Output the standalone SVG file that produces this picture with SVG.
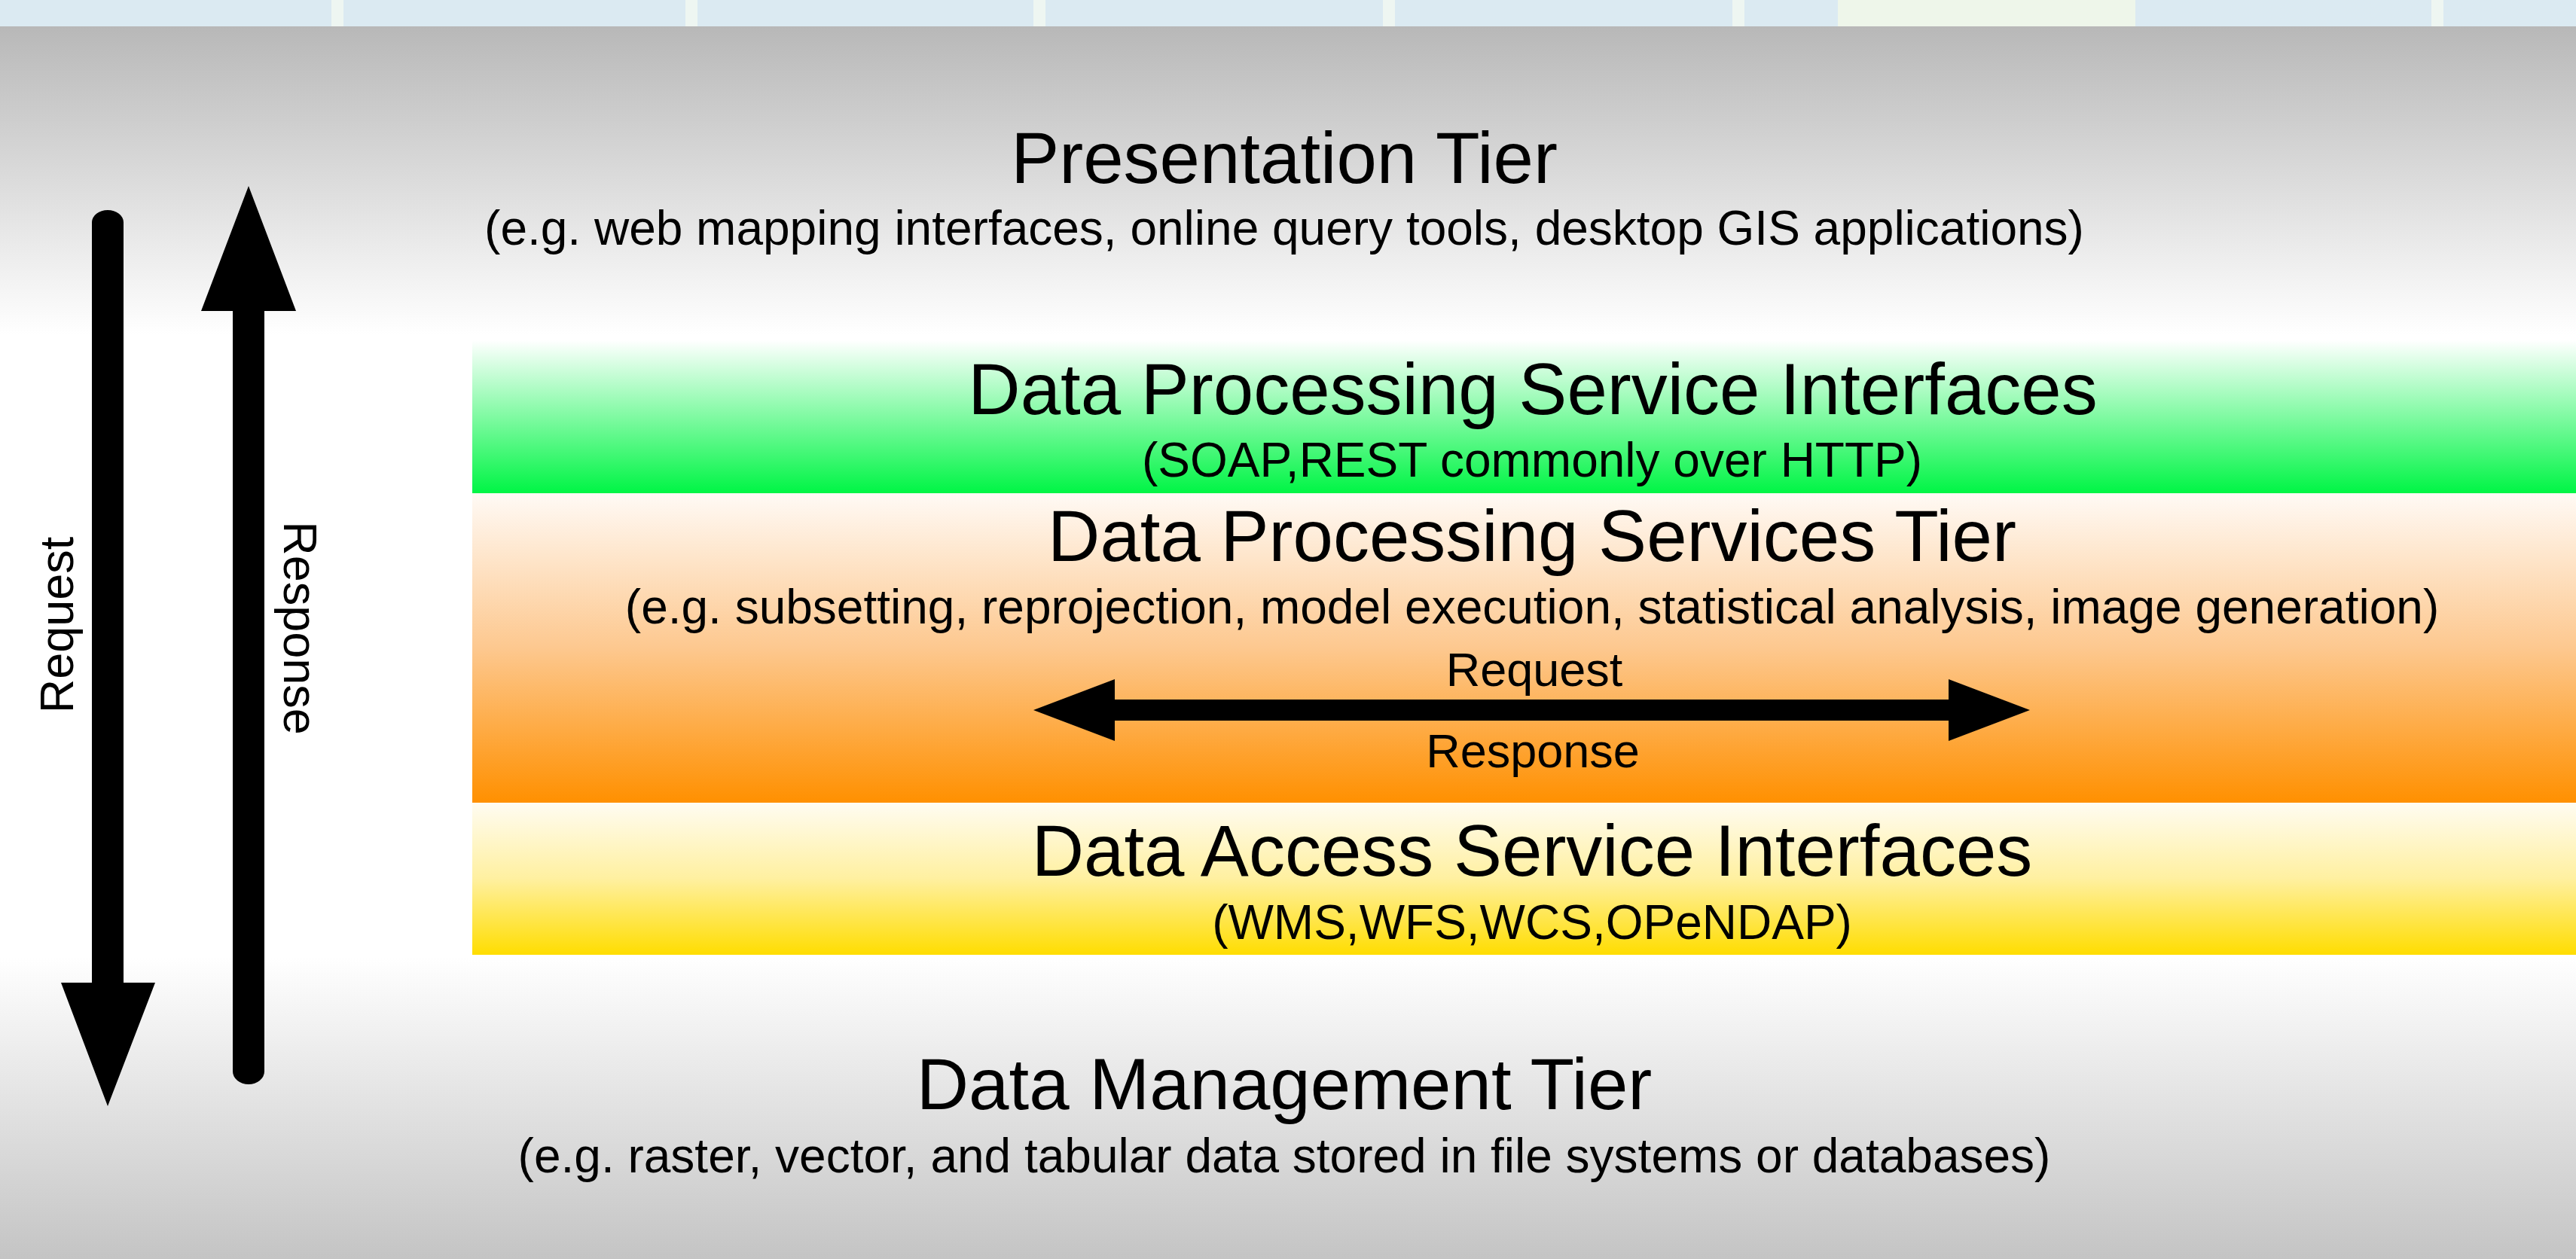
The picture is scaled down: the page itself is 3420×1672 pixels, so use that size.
<svg xmlns="http://www.w3.org/2000/svg" width="3420" height="1672" viewBox="0 0 3420 1672">
  <defs>
    <linearGradient id="bg" x1="0" y1="0" x2="0" y2="1672" gradientUnits="userSpaceOnUse">
      <stop offset="0" stop-color="#b6b6b6"/>
      <stop offset="0.021" stop-color="#b8b8b8"/>
      <stop offset="0.266" stop-color="#ffffff"/>
      <stop offset="0.76" stop-color="#ffffff"/>
      <stop offset="1" stop-color="#c4c4c4"/>
    </linearGradient>
    <linearGradient id="gGreen" x1="0" y1="0" x2="0" y2="1">
      <stop offset="0" stop-color="#ffffff"/>
      <stop offset="1" stop-color="#00f545"/>
    </linearGradient>
    <linearGradient id="gOrange" x1="0" y1="0" x2="0" y2="1">
      <stop offset="0" stop-color="#fffaf5"/>
      <stop offset="0.5" stop-color="#fdc88f"/>
      <stop offset="1" stop-color="#ff9000"/>
    </linearGradient>
    <linearGradient id="gYellow" x1="0" y1="0" x2="0" y2="1">
      <stop offset="0" stop-color="#fffcf2"/>
      <stop offset="0.5" stop-color="#fff0a0"/>
      <stop offset="1" stop-color="#ffdd00"/>
    </linearGradient>
    <style>
      text { font-family: "Liberation Sans", Arial, Helvetica, sans-serif; fill: #000; }
      .title { font-size: 96px; text-anchor: middle; }
      .sub { font-size: 64px; text-anchor: middle; }
      .lbl { font-size: 63px; text-anchor: middle; }
      .arrow { fill: #000; }
      .stripe { fill: #eef6f2; }
    </style>
  </defs>

  <!-- background -->
  <rect x="0" y="0" width="3420" height="1672" fill="url(#bg)"/>
  <g id="top-strip">
    <rect x="0" y="0" width="3420" height="35" fill="#dbeaf2"/>
    <rect class="stripe" x="440" y="0" width="16" height="35"/>
    <rect class="stripe" x="910" y="0" width="16" height="35"/>
    <rect class="stripe" x="1372" y="0" width="16" height="35"/>
    <rect class="stripe" x="1836" y="0" width="16" height="35"/>
    <rect class="stripe" x="2300" y="0" width="16" height="35"/>
    <rect x="2440" y="0" width="395" height="35" fill="#eef6ea"/>
    <rect class="stripe" x="3228" y="0" width="16" height="35"/>
  </g>

  <!-- Presentation tier -->
  <g id="presentation-tier">
    <text class="title" x="1705" y="243">Presentation Tier</text>
    <text class="sub" x="1705" y="325">(e.g. web mapping interfaces, online query tools, desktop GIS applications)</text>
  </g>

  <!-- Data processing service interfaces -->
  <g id="dp-service-interfaces">
    <rect x="627" y="452" width="2793" height="203" fill="url(#gGreen)"/>
    <text class="title" x="2035" y="550">Data Processing Service Interfaces</text>
    <text class="sub" x="2034" y="633">(SOAP,REST commonly over HTTP)</text>
  </g>

  <!-- Data processing services tier -->
  <g id="dp-services-tier">
    <rect x="627" y="655" width="2793" height="411" fill="url(#gOrange)"/>
    <text class="title" x="2034" y="745">Data Processing Services Tier</text>
    <text class="sub" x="2034" y="828">(e.g. subsetting, reprojection, model execution, statistical analysis, image generation)</text>
  </g>

  <!-- Data access service interfaces -->
  <g id="da-service-interfaces">
    <rect x="627" y="1066" width="2793" height="202" fill="url(#gYellow)"/>
    <text class="title" x="2034" y="1163">Data Access Service Interfaces</text>
    <text class="sub" x="2034" y="1247">(WMS,WFS,WCS,OPeNDAP)</text>
  </g>

  <!-- Data management tier -->
  <g id="data-management-tier">
    <text class="title" x="1705" y="1473">Data Management Tier</text>
    <text class="sub" x="1705" y="1557">(e.g. raster, vector, and tabular data stored in file systems or databases)</text>
  </g>

  <!-- connectors -->
  <g id="connectors">
    <path id="request-arrow" class="arrow" d="M122,295 A21,16 0 0 1 164,295 L164,1305 L206,1305 L143,1469 L81,1305 L122,1305 Z"/>
    <path id="response-arrow" class="arrow" d="M309,1423 L309,413 L267,413 L330,247 L393,413 L351,413 L351,1423 A21,17 0 0 1 309,1423 Z"/>
    <path id="processing-arrow" class="arrow" d="M1372,943 L1480,902 L1480,929 L2587,929 L2587,902 L2695,943 L2587,984 L2587,957 L1480,957 L1480,984 Z"/>
    <text class="lbl" x="97" y="830" transform="rotate(-90 97 830)">Request</text>
    <text class="lbl" x="377" y="834" transform="rotate(90 377 834)">Response</text>
    <text class="lbl" x="2037" y="911">Request</text>
    <text class="lbl" x="2035" y="1019">Response</text>
  </g>
</svg>
